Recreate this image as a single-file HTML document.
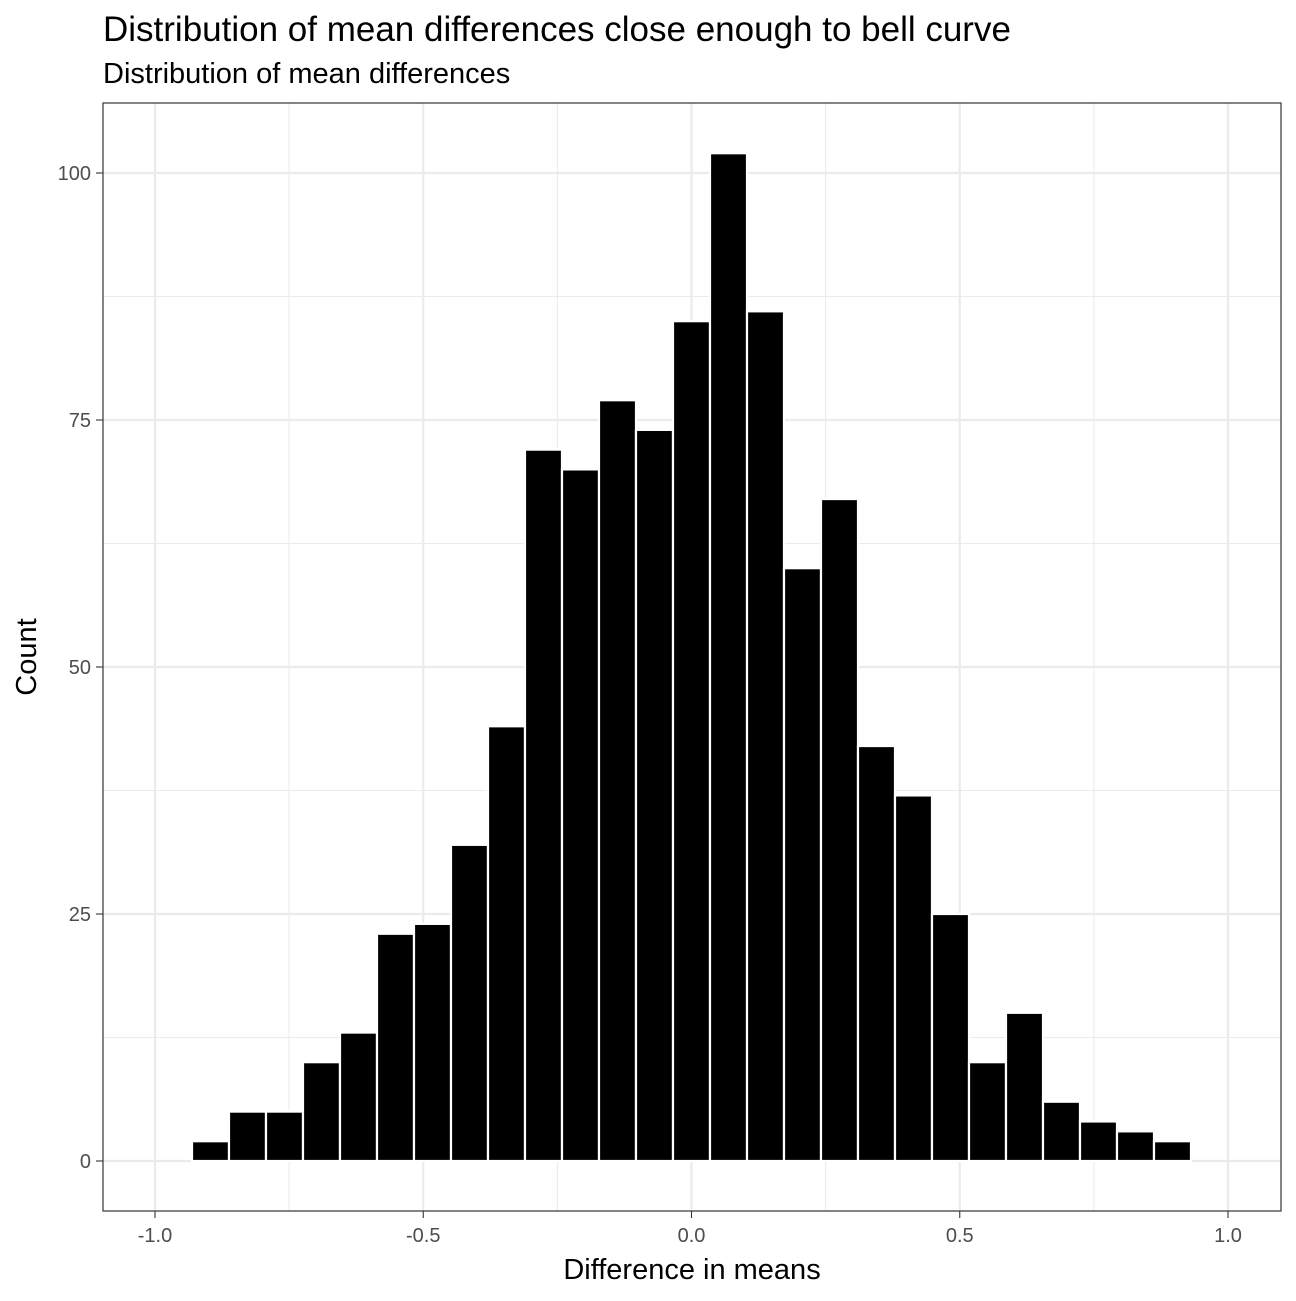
<!DOCTYPE html>
<html><head><meta charset="utf-8"><style>
body{margin:0;background:#fff}
svg text{font-family:"Liberation Sans",Arial,sans-serif}
</style></head><body>
<svg id="chart" width="1296" height="1296" xmlns="http://www.w3.org/2000/svg">
<rect width="1296" height="1296" fill="#fff"/>
<text x="103" y="41" font-size="35" fill="#000">Distribution of mean differences close enough to bell curve</text>
<text x="103" y="83" font-size="29" fill="#000">Distribution of mean differences</text>
<g id="grid"></g>
<g id="bars"></g>
<rect x="103" y="103" width="1178" height="1108" fill="none" stroke="#333" stroke-width="1.2"/>
<g id="axes"></g>
<text x="692" y="1279" font-size="29" text-anchor="middle" fill="#000">Difference in means</text>
<text transform="translate(36,657) rotate(-90)" font-size="29" text-anchor="middle" fill="#000">Count</text>
</svg>
<script>
const counts=[0,2,5,5,10,13,23,24,32,44,72,70,77,74,85,102,86,60,67,42,37,25,10,15,6,4,3,2,0];
const binStart=-1.0;
const binWidth=2/29;
const xTicks=[-1.0,-0.5,0.0,0.5,1.0];
const xTickLabels=["-1.0","-0.5","0.0","0.5","1.0"];
const yTicks=[0,25,50,75,100];
const NS="http://www.w3.org/2000/svg";
const xs=v=>691.5+v*536.5;
const ys=v=>1161-v*9.88;
function mk(tag,attrs,parent){const e=document.createElementNS(NS,tag);for(const k in attrs)e.setAttribute(k,attrs[k]);parent.appendChild(e);return e;}
const grid=document.getElementById('grid'),bars=document.getElementById('bars'),axes=document.getElementById('axes');
for(let i=0;i<xTicks.length;i++){
  const x=xs(xTicks[i]);
  const g=mk('line',{x1:x,x2:x,y1:103,y2:1211,stroke:'#ebebeb','stroke-width':2.2},grid);
  
  
  if(i<xTicks.length-1){const xm=xs((xTicks[i]+xTicks[i+1])/2);
    const m=mk('line',{x1:xm,x2:xm,y1:103,y2:1211,stroke:'#ebebeb','stroke-width':1.1},grid);
    
    }
  const t=mk('line',{x1:x,x2:x,y1:1211,y2:1218,stroke:'#333','stroke-width':1.1},axes);
  
  
  const l=mk('text',{x:x,y:1242,'font-size':20,'text-anchor':'middle',fill:'#4d4d4d'},axes);l.textContent=xTickLabels[i];
  
  
}
for(let i=0;i<yTicks.length;i++){
  const y=ys(yTicks[i]);
  const g=mk('line',{x1:103,x2:1281,y1:y,y2:y,stroke:'#ebebeb','stroke-width':2.2},grid);
  
  
  if(i<yTicks.length-1){const ym=ys((yTicks[i]+yTicks[i+1])/2);
    const m=mk('line',{x1:103,x2:1281,y1:ym,y2:ym,stroke:'#ebebeb','stroke-width':1.1},grid);
    
    }
  const t=mk('line',{x1:96,x2:103,y1:y,y2:y,stroke:'#333','stroke-width':1.1},axes);
  
  
  const l=mk('text',{x:91,y:y+7,'font-size':20,'text-anchor':'end',fill:'#4d4d4d'},axes);l.textContent=yTicks[i];
  
  
}
counts.forEach((c,i)=>{
  const x0=xs(binStart+i*binWidth),x1=xs(binStart+(i+1)*binWidth);
  const r=mk('rect',{x:x0,y:ys(c),width:x1-x0,height:ys(0)-ys(c),fill:'#000',stroke:'#fff','stroke-width':2.2},bars);
  
  
});
</script>
</body></html>
